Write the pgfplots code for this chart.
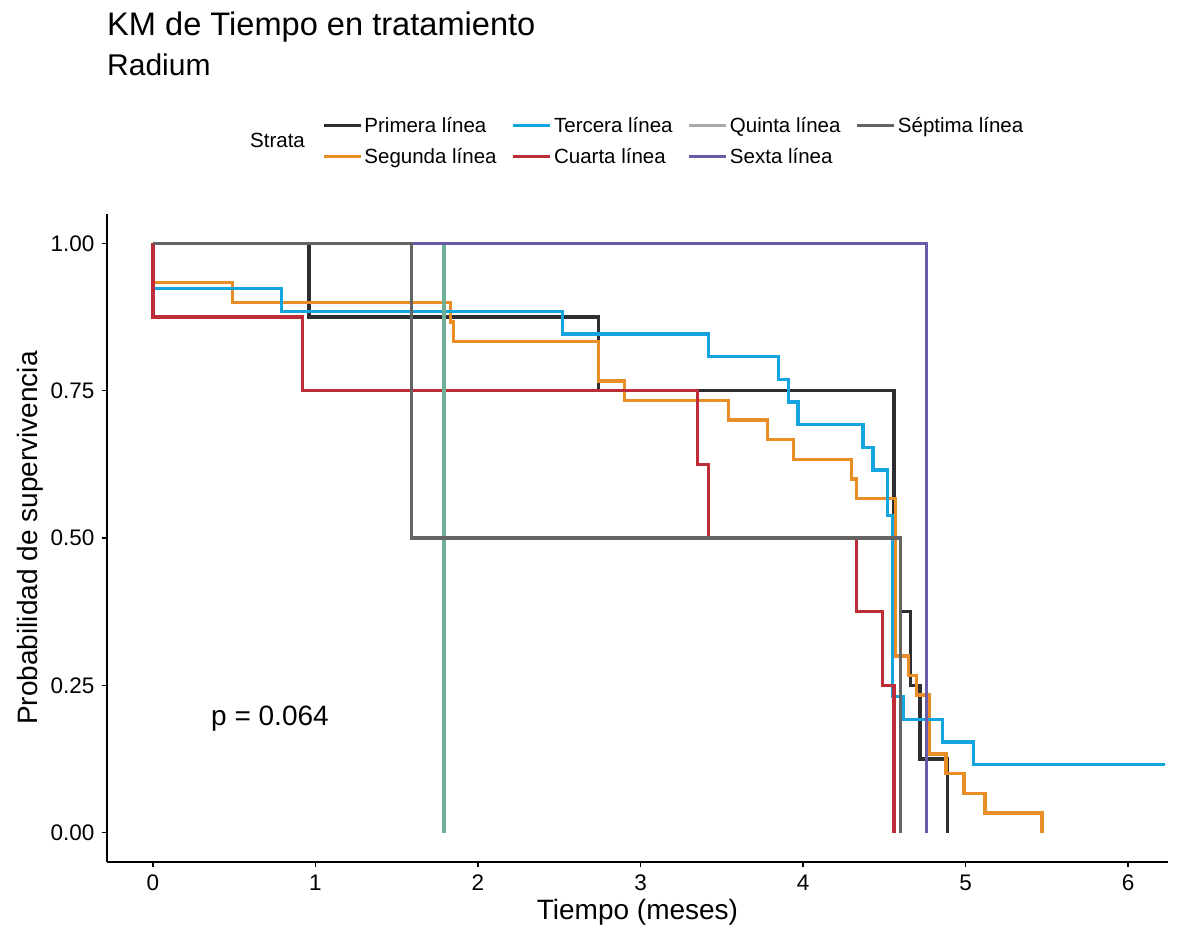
\documentclass[border=0pt]{standalone}
\usepackage{fontspec}
\setmainfont{Liberation Sans}
\usepackage{pgfplots}
\pgfplotsset{compat=1.18}
\definecolor{cPrim}{RGB}{45,45,50}
\definecolor{cSeg}{RGB}{233,142,38}
\definecolor{cTer}{RGB}{20,165,225}
\definecolor{cCua}{RGB}{190,45,55}
\definecolor{cQui}{RGB}{110,175,150}
\definecolor{cQuiL}{RGB}{170,170,170}
\definecolor{cSex}{RGB}{105,90,170}
\definecolor{cSep}{RGB}{100,100,100}
\begin{document}
\begin{tikzpicture}[x=1pt,y=1pt]
\path[use as bounding box] (0,0) rectangle (1181,933);
\node[anchor=base west, inner sep=0pt, font=\fontsize{32.6}{36}\selectfont] at (107,897) {KM de Tiempo en tratamiento};
\node[anchor=base west, inner sep=0pt, font=\fontsize{30}{34}\selectfont] at (107,857) {Radium};
\node[anchor=west, inner sep=0pt, font=\fontsize{20.5}{24}\selectfont] at (250,793) {Strata};
\begin{axis}[
  at={(107pt,71pt)}, anchor=south west, scale only axis,
  width=1061pt, height=648pt,
  xmin=-0.283, xmax=6.246, ymin=-0.05, ymax=1.05,
  axis x line*=bottom, axis y line*=left,
  axis line style={line width=1.6pt, black},
  xtick={0,1,2,3,4,5,6}, xticklabels={0,1,2,3,4,5,6},
  ytick={0,0.25,0.5,0.75,1}, yticklabels={0.00,0.25,0.50,0.75,1.00},
  tick align=outside, major tick length=5pt,
  tick style={line width=1.2pt, black},
  ticklabel style={font=\fontsize{22.5}{26}\selectfont},
  yticklabel style={xshift=-4pt},
  xticklabel style={yshift=-4pt},
  /pgf/number format/assume math mode=true,
  xlabel={Tiempo (meses)}, ylabel={Probabilidad de supervivencia},
  label style={font=\fontsize{28}{32}\selectfont},
  xlabel style={at={(axis description cs:0.5,-0.077)}, anchor=center},
  ylabel style={at={(axis description cs:-0.0726,0.5)}, anchor=center},
  legend columns=4, legend cell align=left,
  legend style={draw=none, fill=none, inner sep=0pt,
    font=\fontsize{20.5}{24}\selectfont,
    anchor=west, at={(axis description cs:0.2025,1.1127)},
    /tikz/every even column/.append style={column sep=13pt},
    row sep=10pt},
  legend image code/.code={\draw[#1] (0pt,0pt) -- (27pt,0pt); \path (27pt,0pt) -- (37pt,0pt);},
  every axis plot/.append style={line width=3.4pt, const plot},
  clip=false,
]
% Primera linea
\addplot[cPrim, forget plot] coordinates {(0,1) (0.96,0.875) (2.74,0.75) (4.56,0.5) (4.60,0.375) (4.66,0.25) (4.72,0.125) (4.89,0)};
% Segunda linea
\addplot[cSeg, forget plot] coordinates {(0,1) (0,0.9333) (0.49,0.9) (1.83,0.8667) (1.85,0.8333) (2.74,0.7667) (2.90,0.7333) (3.54,0.7) (3.78,0.6667) (3.94,0.6333) (4.30,0.6) (4.33,0.5667) (4.57,0.3) (4.65,0.2667) (4.70,0.2333) (4.78,0.1333) (4.88,0.1) (4.99,0.0667) (5.12,0.0333) (5.47,0)};
% Tercera linea
\addplot[cTer, forget plot] coordinates {(0,1) (0,0.9231) (0.79,0.8846) (2.52,0.8462) (3.42,0.8077) (3.85,0.7692) (3.91,0.7308) (3.97,0.6923) (4.37,0.6538) (4.43,0.6154) (4.52,0.5385) (4.55,0.2308) (4.62,0.1923) (4.86,0.1538) (5.05,0.1154) (6.23,0.1154)};
% Cuarta linea
\addplot[cCua, forget plot] coordinates {(0,1) (0,0.875) (0.92,0.75) (3.35,0.625) (3.42,0.5) (4.33,0.375) (4.49,0.25) (4.56,0)};
% Quinta linea
\addplot[cQui, forget plot] coordinates {(0,1) (1.79,0)};
% Sexta linea
\addplot[cSex, forget plot] coordinates {(0,1) (4.76,0)};
% Septima linea
\addplot[cSep, forget plot] coordinates {(0,1) (1.59,0.5) (4.60,0)};
\node[font=\fontsize{28}{32}\selectfont] at (axis cs:0.72,0.194) {p = 0.064};
\addlegendimage{cPrim, line width=3.4pt}\addlegendentry{Primera línea}
\addlegendimage{cTer, line width=3.4pt}\addlegendentry{Tercera línea}
\addlegendimage{cQuiL, line width=3.4pt}\addlegendentry{Quinta línea}
\addlegendimage{cSep, line width=3.4pt}\addlegendentry{Séptima línea}
\addlegendimage{cSeg, line width=3.4pt}\addlegendentry{Segunda línea}
\addlegendimage{cCua, line width=3.4pt}\addlegendentry{Cuarta línea}
\addlegendimage{cSex, line width=3.4pt}\addlegendentry{Sexta línea}
\end{axis}
\end{tikzpicture}
\end{document}
